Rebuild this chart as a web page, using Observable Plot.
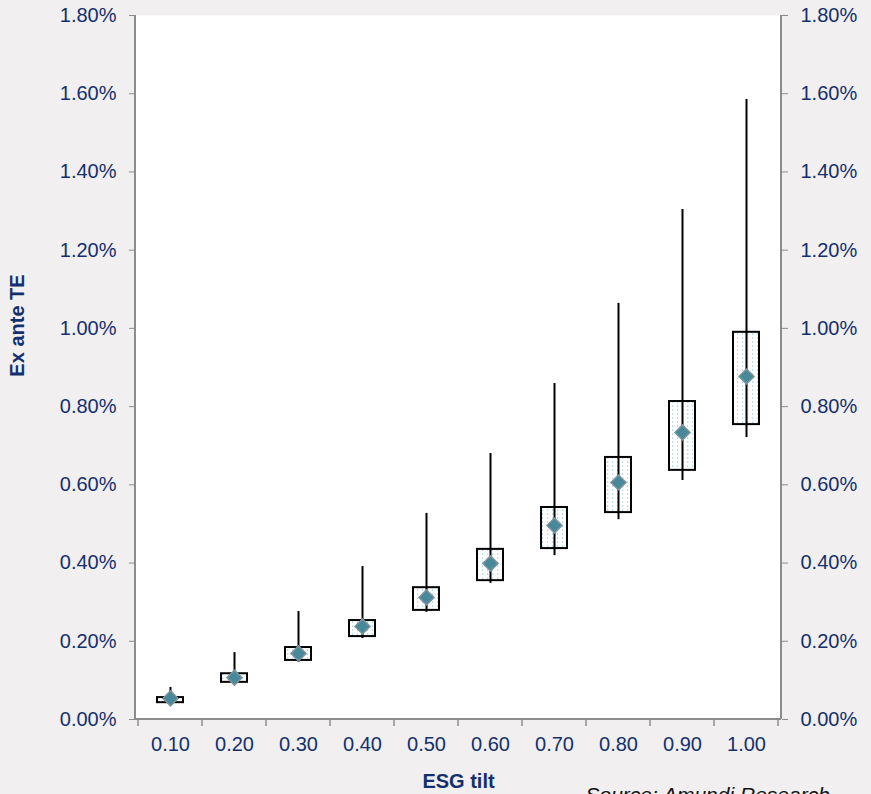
<!DOCTYPE html>
<html>
<head>
<meta charset="utf-8">
<script src="https://cdn.jsdelivr.net/npm/d3@7"></script>
<script src="https://cdn.jsdelivr.net/npm/@observablehq/plot@0.6"></script>
<style>
  html, body { margin: 0; padding: 0; background: #f2eff0; }
  #chart [aria-label^="y-axis"] line,
  #chart [aria-label^="y-axis"] path,
  #chart [aria-label^="x-axis"] line,
  #chart [aria-label^="x-axis"] path { stroke: #8c8c8c !important; }
</style>
</head>
<body>
<div id="chart"></div>
<script>
// ESG tilt categories
const categories = ["0.10","0.20","0.30","0.40","0.50","0.60","0.70","0.80","0.90","1.00"];
// Ex ante TE, in percent
const whiskerLow  = [0.041, 0.090, 0.146, 0.207, 0.274, 0.348, 0.419, 0.511, 0.611, 0.721];
const boxLow      = [0.043, 0.095, 0.151, 0.212, 0.279, 0.355, 0.437, 0.529, 0.637, 0.754];
const boxHigh     = [0.056, 0.117, 0.184, 0.253, 0.337, 0.435, 0.542, 0.670, 0.813, 0.990];
const whiskerHigh = [0.082, 0.171, 0.276, 0.391, 0.527, 0.680, 0.859, 1.064, 1.304, 1.585];
const meanTE      = [0.054, 0.107, 0.169, 0.238, 0.312, 0.399, 0.496, 0.606, 0.734, 0.877];
const yTicks = [0, 0.2, 0.4, 0.6, 0.8, 1.0, 1.2, 1.4, 1.6, 1.8];

const rows = categories.map((c, i) => ({
  cat: c, wlo: whiskerLow[i], blo: boxLow[i], bhi: boxHigh[i], whi: whiskerHigh[i], mean: meanTE[i]
}));

// decorations: pattern defs, axis lines, boundary ticks on x axis
function decor(index, scales, values, dimensions) {
  const {width, height, marginLeft, marginRight, marginTop, marginBottom} = dimensions;
  const x0 = marginLeft, x1 = width - marginRight, y0 = marginTop, y1 = height - marginBottom;
  const g = d3.create("svg:g");
  const pat = g.append("defs").append("pattern")
    .attr("id", "dots").attr("patternUnits", "userSpaceOnUse")
    .attr("width", 5).attr("height", 4);
  pat.append("rect").attr("width", 5).attr("height", 4).attr("fill", "white");
  pat.append("rect").attr("x", 2).attr("y", 1.5).attr("width", 1.2).attr("height", 1.2).attr("fill", "#93cbe0");
  const col = "#8c8c8c";
  g.append("line").attr("x1", x0).attr("x2", x0).attr("y1", y0).attr("y2", y1).attr("stroke", col).attr("stroke-width", 2);
  g.append("line").attr("x1", x1).attr("x2", x1).attr("y1", y0).attr("y2", y1).attr("stroke", col).attr("stroke-width", 2);
  g.append("line").attr("x1", x0).attr("x2", x1).attr("y1", y1).attr("y2", y1).attr("stroke", col).attr("stroke-width", 2);
  const bw = scales.x.bandwidth();
  const bounds = categories.map(c => scales.x(c)).concat([scales.x(categories[categories.length - 1]) + bw]);
  for (const bx of bounds) {
    g.append("line").attr("x1", bx).attr("x2", bx).attr("y1", y1).attr("y2", y1 + 7).attr("stroke", col).attr("stroke-width", 1.5);
  }
  return g.node();
}

const fmt = d => d.toFixed(2) + "%";

const chart = Plot.plot({
  width: 871,
  height: 794,
  marginTop: 15,
  marginBottom: 75,
  marginLeft: 135,
  marginRight: 90,
  style: {
    background: "#f2eff0",
    color: "#13306e",
    fontFamily: "'Liberation Sans', Arial, sans-serif",
    fontSize: "20px"
  },
  x: {domain: categories, padding: 0, tickSize: 0, tickPadding: 17, label: null},
  y: {domain: [0, 1.8], ticks: yTicks, tickFormat: fmt, axis: "both", tickSize: 6, tickPadding: 13, label: null},
  marks: [
    Plot.frame({fill: "white", stroke: null}),
    decor,
    Plot.barY(rows, {x: "cat", y1: "blo", y2: "bhi", fill: "url(#dots)", stroke: "black", strokeWidth: 2, insetLeft: 19, insetRight: 19}),
    Plot.ruleX(rows, {x: "cat", y1: "wlo", y2: "whi", stroke: "black", strokeWidth: 2}),
    Plot.dot(rows, {x: "cat", y: "mean", symbol: "diamond2", r: 6.8, fill: "#47899a", stroke: "#7d9399", strokeWidth: 1.5}),
    Plot.text(["ESG tilt"], {frameAnchor: "bottom", dy: 68, fontWeight: "bold", fontSize: 20, fill: "#13306e"}),
    Plot.text(["Ex ante TE"], {frameAnchor: "left", textAnchor: "middle", dx: -118, dy: -42, rotate: -90, fontWeight: "bold", fontSize: 20, fill: "#13306e"}),
    Plot.text(["Source: Amundi Research"], {frameAnchor: "bottom-left", dx: 450, dy: 68, lineAnchor: "top", textAnchor: "start", fontStyle: "italic", fontSize: 21, fill: "#111111"})
  ]
});
document.getElementById("chart").appendChild(chart);
</script>
</body>
</html>
